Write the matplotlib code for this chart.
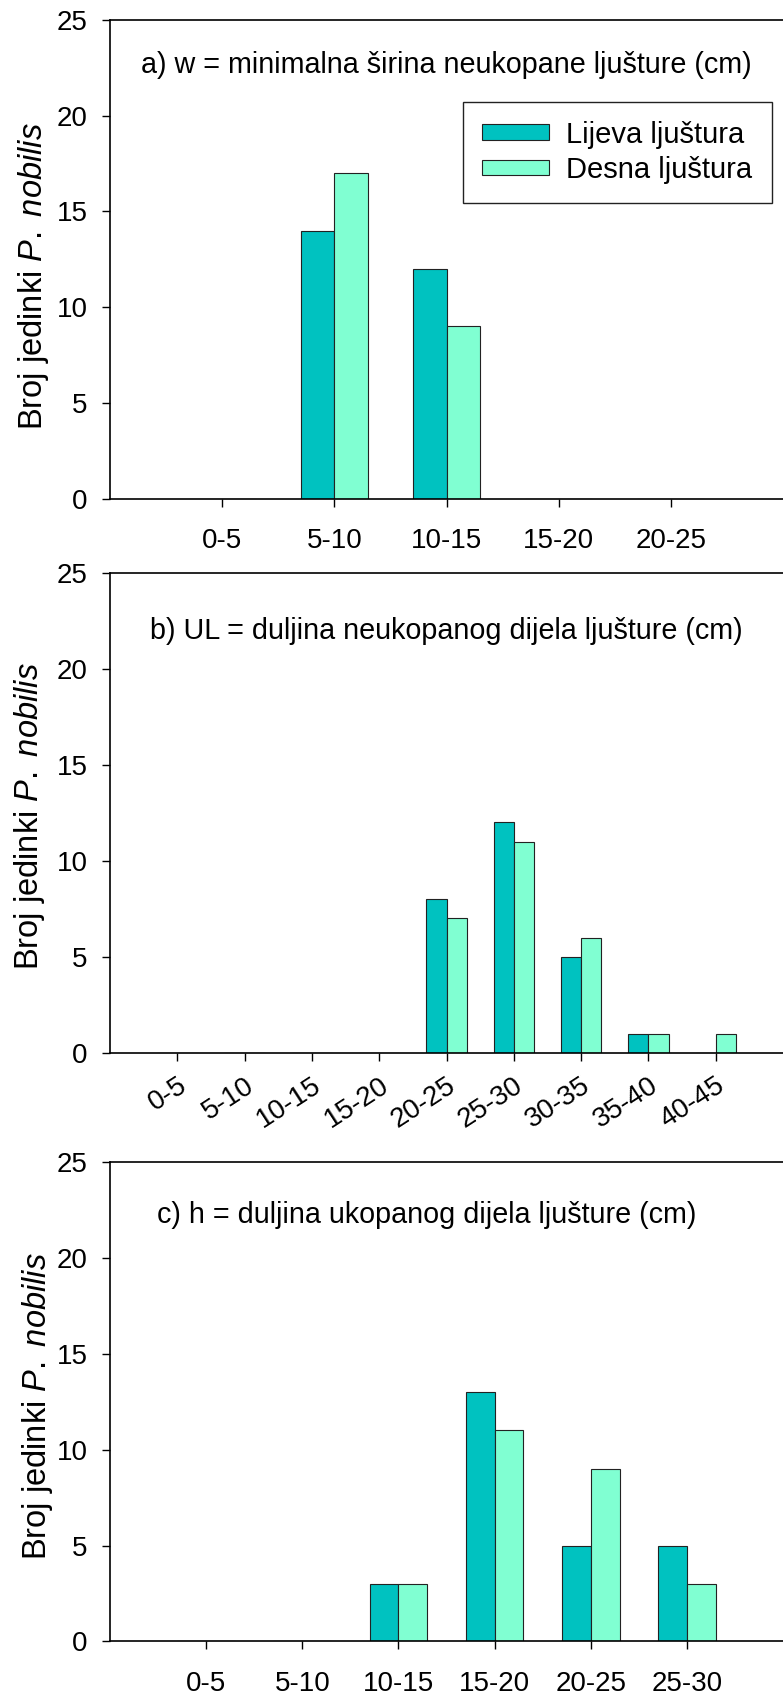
import matplotlib
matplotlib.use("Agg")
import matplotlib.pyplot as plt

plt.rcParams["font.family"] = ["Liberation Sans", "DejaVu Sans"]
plt.rcParams["mathtext.fontset"] = "custom"
plt.rcParams["mathtext.rm"] = "Liberation Sans"
plt.rcParams["mathtext.it"] = "Liberation Sans:italic"

# data
cats_a = ["0-5", "5-10", "10-15", "15-20", "20-25"]
lijeva_a = [0, 14, 12, 0, 0]
desna_a = [0, 17, 9, 0, 0]

cats_b = ["0-5", "5-10", "10-15", "15-20", "20-25", "25-30", "30-35", "35-40", "40-45"]
lijeva_b = [0, 0, 0, 0, 8, 12, 5, 1, 0]
desna_b = [0, 0, 0, 0, 7, 11, 6, 1, 1]

cats_c = ["0-5", "5-10", "10-15", "15-20", "20-25", "25-30"]
lijeva_c = [0, 0, 3, 13, 5, 5]
desna_c = [0, 0, 3, 11, 9, 3]

titles = ["a) w = minimalna širina neukopane ljušture (cm)",
          "b) UL = duljina neukopanog dijela ljušture (cm)",
          "c) h = duljina ukopanog dijela ljušture (cm)"]
series_names = ["Lijeva ljuštura", "Desna ljuštura"]

C_LEFT, C_RIGHT, EDGE = "#00C2C0", "#80FFD2", "#222222"
W = 0.3

fig = plt.figure(figsize=(7.83, 16.95), dpi=100)
# [left, bottom, width, height] in figure fractions, matched to the reference
boxes = [[0.1405, 0.7056, 0.8595, 0.2828],
         [0.1405, 0.3788, 0.8595, 0.2834],
         [0.1405, 0.0316, 0.8595, 0.2829]]
panels = [(cats_a, lijeva_a, desna_a), (cats_b, lijeva_b, desna_b), (cats_c, lijeva_c, desna_c)]
title_pos = [(0.5, 0.905), (0.5, 0.879), (0.47, 0.890)]
ylab_pos = [(-0.088, 0.465), (-0.093, 0.494), (-0.082, 0.491)]

for i, (cats, lv, dv) in enumerate(panels):
    ax = fig.add_axes(boxes[i])
    x = list(range(1, len(cats) + 1))
    b1 = ax.bar(x, lv, width=-W, align="edge", color=C_LEFT, edgecolor=EDGE, linewidth=0.8)
    b2 = ax.bar(x, dv, width=W, align="edge", color=C_RIGHT, edgecolor=EDGE, linewidth=0.8)
    ax.set_xlim(0, len(cats) + 1)
    ax.set_ylim(0, 25)
    ax.set_yticks([0, 5, 10, 15, 20, 25])
    ax.set_xticks(x)
    ax.tick_params(axis="both", direction="out", length=6, width=1.0, labelsize=20)
    if i == 1:
        ax.set_xticklabels(cats, rotation=33, ha="right", va="top", rotation_mode="anchor")
        ax.tick_params(axis="x", pad=8)
    else:
        ax.set_xticklabels(cats)
        ax.tick_params(axis="x", pad=15)
    ax.tick_params(axis="y", pad=10)
    ax.spines["right"].set_visible(False)
    for s in ["left", "bottom", "top"]:
        ax.spines[s].set_linewidth(1.2)
    ax.text(title_pos[i][0], title_pos[i][1], titles[i], transform=ax.transAxes,
            ha="center", va="center", fontsize=20.7)
    ax.set_ylabel(r"Broj jedinki $\it{P.}$ $\it{nobilis}$", fontsize=23.5)
    ax.yaxis.set_label_coords(*ylab_pos[i])
    if i == 0:
        leg = ax.legend([b1, b2], series_names, loc="upper right", bbox_to_anchor=(0.983, 0.829),
                        borderaxespad=0, fontsize=21, fancybox=False, framealpha=1,
                        edgecolor="#222222", handlelength=2.3, handleheight=0.45,
                        handletextpad=0.6, labelspacing=0.25, borderpad=0.65)
        leg.get_frame().set_linewidth(1.0)

fig.savefig("out.png", dpi=100)
